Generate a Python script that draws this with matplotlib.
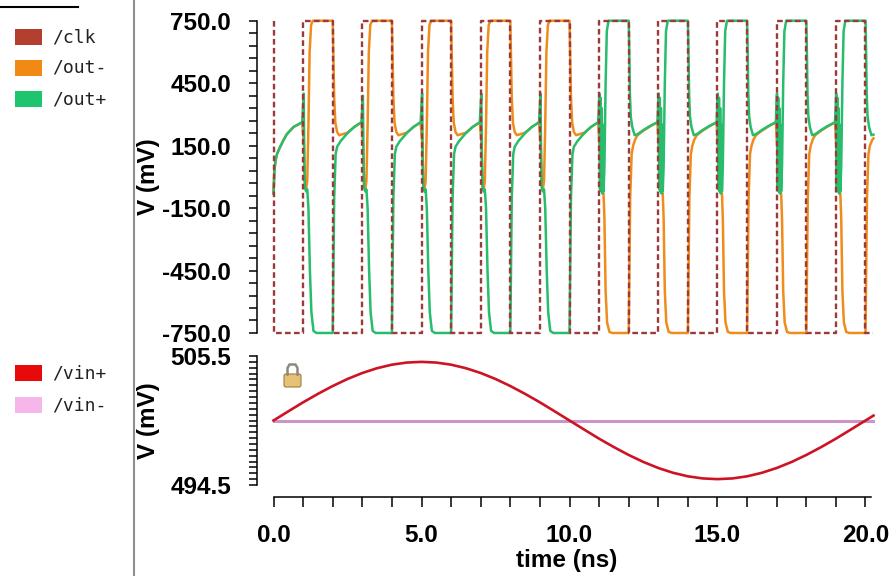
import matplotlib
matplotlib.use('Agg')
import numpy as np
import matplotlib.pyplot as plt
from matplotlib.patches import Rectangle, FancyBboxPatch
from matplotlib.ticker import FixedLocator, FormatStrFormatter

# ---------------- data ----------------
clk_t = [0, 0, 1, 1, 2, 2, 3, 3, 4, 4, 5, 5, 6, 6, 7, 7, 8, 8, 9, 9, 10, 10,
         11, 11, 12, 12, 13, 13, 14, 14, 15, 15, 16, 16, 17, 17, 18, 18, 19, 19,
         20, 20, 20.27]
clk_v = [750, -750, -750, 750, 750, -750, -750, 750, 750, -750, -750, 750,
         750, -750, -750, 750, 750, -750, -750, 750, 750, -750,
         -750, 750, 750, -750, -750, 750, 750, -750, -750, 750, 750, -750,
         -750, 750, 750, -750, -750, 750, 750, -750, -750]

outp_t = [
    0.00, 0.03, 0.07, 0.12, 0.23, 0.35, 0.45, 0.68, 0.97,
    1.02, 1.04, 1.06, 1.10, 1.14, 1.18, 1.23, 1.28, 1.35, 1.45,
    2.00, 2.02, 2.05, 2.10, 2.15, 2.27, 2.50, 2.73, 2.97,
    3.02, 3.04, 3.06, 3.10, 3.14, 3.18, 3.23, 3.28, 3.35, 3.45,
    4.00, 4.02, 4.05, 4.10, 4.15, 4.27, 4.50, 4.73, 4.97,
    5.02, 5.04, 5.06, 5.10, 5.14, 5.18, 5.23, 5.28, 5.35, 5.45,
    6.00, 6.02, 6.05, 6.10, 6.15, 6.27, 6.50, 6.73, 6.97,
    7.02, 7.04, 7.06, 7.10, 7.14, 7.18, 7.23, 7.28, 7.35, 7.45,
    8.00, 8.02, 8.05, 8.10, 8.15, 8.27, 8.50, 8.73, 8.97,
    9.02, 9.04, 9.06, 9.10, 9.14, 9.18, 9.23, 9.28, 9.35, 9.45,
    10.00, 10.02, 10.05, 10.10, 10.15, 10.27, 10.50, 10.73, 10.97,
    11.01, 11.03, 11.05, 11.07, 11.09, 11.11, 11.13, 11.15, 11.18, 11.22, 11.26, 11.32,
    12.00, 12.02, 12.04, 12.07, 12.12, 12.20, 12.30, 12.50, 12.73, 12.97,
    13.01, 13.03, 13.05, 13.07, 13.09, 13.11, 13.13, 13.15, 13.18, 13.22, 13.26, 13.32,
    14.00, 14.02, 14.04, 14.07, 14.12, 14.20, 14.30, 14.50, 14.73, 14.97,
    15.01, 15.03, 15.05, 15.07, 15.09, 15.11, 15.13, 15.15, 15.18, 15.22, 15.26, 15.32,
    16.00, 16.02, 16.04, 16.07, 16.12, 16.20, 16.30, 16.50, 16.73, 16.97,
    17.01, 17.03, 17.05, 17.07, 17.09, 17.11, 17.13, 17.15, 17.18, 17.22, 17.26, 17.32,
    18.00, 18.02, 18.04, 18.07, 18.12, 18.20, 18.30, 18.50, 18.73, 18.97,
    19.01, 19.03, 19.05, 19.07, 19.09, 19.11, 19.13, 19.15, 19.18, 19.22, 19.26, 19.32,
    20.00, 20.02, 20.04, 20.07, 20.12, 20.20, 20.27]
outp_v = [
    -80, 30, 80, 110, 146, 180, 205, 240, 262,
    400, 100, -50, -70, -60, -150, -450, -650, -740, -750,
    -750, -500, -100, 110, 145, 172, 210, 240, 262,
    390, 100, -50, -70, -60, -150, -450, -650, -740, -750,
    -750, -500, -100, 110, 145, 172, 210, 240, 262,
    400, 100, -50, -70, -60, -150, -450, -650, -740, -750,
    -750, -500, -100, 110, 145, 172, 210, 240, 262,
    400, 100, -50, -70, -60, -150, -450, -650, -740, -750,
    -750, -500, -100, 110, 145, 172, 210, 240, 262,
    400, 100, -50, -70, -60, -150, -450, -650, -740, -750,
    -750, -500, -100, 110, 145, 172, 210, 240, 262,
    400, -60, 380, -70, 330, -80, 250, -70, 50, 450, 700, 750,
    750, 600, 400, 290, 240, 200, 205, 225, 245, 262,
    400, -60, 380, -70, 330, -80, 250, -70, 50, 450, 700, 750,
    750, 600, 400, 290, 240, 200, 205, 225, 245, 262,
    400, -60, 380, -70, 330, -80, 250, -70, 50, 450, 700, 750,
    750, 600, 400, 290, 240, 200, 205, 225, 245, 262,
    400, -60, 380, -70, 330, -80, 250, -70, 50, 450, 700, 750,
    750, 600, 400, 290, 240, 200, 205, 225, 245, 262,
    400, -60, 380, -70, 330, -80, 250, -70, 50, 450, 700, 750,
    750, 600, 400, 290, 240, 200, 203]

outm_t = [
    0.00, 0.03, 0.07, 0.12, 0.23, 0.35, 0.45, 0.68, 0.97,
    1.03, 1.06, 1.10, 1.14, 1.18, 1.22, 1.27, 1.33,
    2.00, 2.02, 2.05, 2.09, 2.15, 2.22, 2.50, 2.73, 2.97,
    3.03, 3.06, 3.10, 3.14, 3.18, 3.22, 3.27, 3.33,
    4.00, 4.02, 4.05, 4.09, 4.15, 4.22, 4.50, 4.73, 4.97,
    5.03, 5.06, 5.10, 5.14, 5.18, 5.22, 5.27, 5.33,
    6.00, 6.02, 6.05, 6.09, 6.15, 6.22, 6.50, 6.73, 6.97,
    7.03, 7.06, 7.10, 7.14, 7.18, 7.22, 7.27, 7.33,
    8.00, 8.02, 8.05, 8.09, 8.15, 8.22, 8.50, 8.73, 8.97,
    9.03, 9.06, 9.10, 9.14, 9.18, 9.22, 9.27, 9.33,
    10.00, 10.02, 10.05, 10.09, 10.15, 10.22, 10.50, 10.73, 10.97,
    11.03, 11.06, 11.15, 11.18, 11.22, 11.27, 11.35, 11.45,
    12.00, 12.02, 12.05, 12.10, 12.15, 12.22, 12.30, 12.50, 12.73, 12.97,
    13.03, 13.06, 13.15, 13.18, 13.22, 13.27, 13.35, 13.45,
    14.00, 14.02, 14.05, 14.10, 14.15, 14.22, 14.30, 14.50, 14.73, 14.97,
    15.03, 15.06, 15.15, 15.18, 15.22, 15.27, 15.35, 15.45,
    16.00, 16.02, 16.05, 16.10, 16.15, 16.22, 16.30, 16.50, 16.73, 16.97,
    17.03, 17.06, 17.15, 17.18, 17.22, 17.27, 17.35, 17.45,
    18.00, 18.02, 18.05, 18.10, 18.15, 18.22, 18.30, 18.50, 18.73, 18.97,
    19.03, 19.06, 19.15, 19.18, 19.22, 19.27, 19.35, 19.45,
    20.00, 20.02, 20.05, 20.10, 20.15, 20.22, 20.27]
outm_v = [
    -80, 30, 80, 110, 146, 180, 205, 240, 262,
    150, -40, -60, -20, 250, 600, 730, 750,
    750, 600, 380, 260, 215, 200, 212, 240, 262,
    150, -40, -60, -20, 250, 600, 730, 750,
    750, 600, 380, 260, 215, 200, 212, 240, 262,
    150, -40, -60, -20, 250, 600, 730, 750,
    750, 600, 380, 260, 215, 200, 212, 240, 262,
    150, -40, -60, -20, 250, 600, 730, 750,
    750, 600, 380, 260, 215, 200, 212, 240, 262,
    150, -40, -60, -20, 250, 600, 730, 750,
    750, 600, 380, 260, 215, 200, 212, 240, 262,
    100, -60, -80, -200, -550, -700, -745, -750,
    -750, -500, -100, 110, 150, 180, 200, 222, 243, 262,
    100, -60, -80, -200, -550, -700, -745, -750,
    -750, -500, -100, 110, 150, 180, 200, 222, 243, 262,
    100, -60, -80, -200, -550, -700, -745, -750,
    -750, -500, -100, 110, 150, 180, 200, 222, 243, 262,
    100, -60, -80, -200, -550, -700, -745, -750,
    -750, -500, -100, 110, 150, 180, 200, 222, 243, 262,
    100, -60, -80, -200, -550, -700, -745, -750,
    -750, -500, -100, 110, 150, 175, 185]

vinp_t = [0.0, 0.5, 1.0, 1.5, 2.0, 2.5, 3.0, 3.5, 4.0, 4.5, 5.0, 5.5, 6.0, 6.5,
          7.0, 7.5, 8.0, 8.5, 9.0, 9.5, 10.0, 10.5, 11.0, 11.5, 12.0, 12.5,
          13.0, 13.5, 14.0, 14.5, 15.0, 15.5, 16.0, 16.5, 17.0, 17.5, 18.0,
          18.5, 19.0, 19.5, 20.0, 20.27]
vinp_v = [500.00, 500.78, 501.55, 502.27, 502.94, 503.54, 504.05, 504.46,
          504.76, 504.94, 505.00, 504.94, 504.76, 504.46, 504.05, 503.54,
          502.94, 502.27, 501.55, 500.78, 500.00, 499.22, 498.45, 497.73,
          497.06, 496.46, 495.95, 495.54, 495.24, 495.06, 495.00, 495.06,
          495.24, 495.54, 495.95, 496.46, 497.06, 497.73, 498.45, 499.22,
          500.00, 500.42]
vinm_t = [0.0, 20.27]
vinm_v = [500.0, 500.0]

top_ticks = [750, 450, 150, -150, -450, -750]
bot_yticks = [494.5, 505.5]
bot_xticks = [0, 5, 10, 15, 20]

top_names = ['/clk', '/out-', '/out+']
top_cols = ['#b3402e', '#f08a14', '#1fc46e']
bot_names = ['/vin+', '/vin-']
bot_cols = ['#e80a0a', '#f6b6ea']

C_CLK = '#9c3a3a'
C_OM = '#ef8c1c'
C_OP = '#27bd6c'
C_VP = '#cc1424'
C_VM = '#cc94c8'

# ---------------- figure ----------------
W, H = 893, 576
fig = plt.figure(figsize=(W / 100, H / 100), dpi=100)
fig.patch.set_facecolor('white')

def px_axes(left, top, right, bottom):
    return fig.add_axes([left / W, 1 - bottom / H, (right - left) / W, (bottom - top) / H])

FONT = dict(family='Liberation Sans', weight='bold', size=17.5)
PX = 0.72  # points per pixel

XL, XR = 270.54, 875.86
ax1 = px_axes(XL, 17.6, XR, 336.1)
ax2 = px_axes(XL, 356, XR, 485)
for ax in (ax1, ax2):
    ax.set_xlim(-0.1, 20.35)
    ax.patch.set_alpha(0)
    for s in ('top', 'right'):
        ax.spines[s].set_visible(False)
    ax.spines['left'].set_position(('outward', 13.5 * PX))
    ax.spines['left'].set_linewidth(1.1)
    ax.spines['bottom'].set_linewidth(1.1)

ax1.set_ylim(-765, 765)
ax1.spines['bottom'].set_visible(False)
ax1.spines['left'].set_bounds(-750, 750)
ax1.set_xticks([])
ax1.yaxis.set_major_locator(FixedLocator(top_ticks))
ax1.yaxis.set_minor_locator(FixedLocator(np.arange(-750, 751, 60)))
ax1.yaxis.set_major_formatter(FormatStrFormatter('%.1f'))

ax2.set_ylim(494.5, 505.5)
ax2.spines['left'].set_bounds(494.5, 505.5)
ax2.spines['bottom'].set_position(('outward', 12 * PX))
ax2.spines['bottom'].set_bounds(0, 20.2)
ax2.yaxis.set_major_locator(FixedLocator(bot_yticks))
ax2.yaxis.set_minor_locator(FixedLocator(np.arange(494.5, 505.51, 0.5)))
ax2.yaxis.set_major_formatter(FormatStrFormatter('%.1f'))
ax2.xaxis.set_major_locator(FixedLocator(bot_xticks))
ax2.xaxis.set_minor_locator(FixedLocator(np.arange(0, 20.1, 1)))
ax2.xaxis.set_major_formatter(FormatStrFormatter('%.1f'))

for ax in (ax1, ax2):
    ax.tick_params(axis='y', which='both', direction='out', length=8 * PX, width=1.1,
                   pad=13)
    ax.tick_params(axis='x', which='both', direction='out', length=10 * PX, width=1.1,
                   pad=12)
    for lab in ax.get_yticklabels() + ax.get_xticklabels():
        lab.set_fontfamily(FONT['family'])
        lab.set_fontweight('bold')
        lab.set_fontsize(FONT['size'])

# traces
ax1.plot(outm_t, outm_v, color=C_OM, lw=1.8, zorder=2, clip_on=False)
ax1.plot(outp_t, outp_v, color=C_OP, lw=1.8, zorder=3, clip_on=False)
ax1.plot(clk_t, clk_v, color=C_CLK, lw=1.7, dashes=(2.4, 1.4), zorder=4, clip_on=False)

ax2.plot(vinm_t, vinm_v, color=C_VM, lw=2.2, zorder=2)
ax2.plot(vinp_t, vinp_v, color=C_VP, lw=1.9, zorder=3)

# ---------------- overlay (legend, labels, decorations) ----------------
ov = fig.add_axes([0, 0, 1, 1])
ov.set_xlim(0, W)
ov.set_ylim(H, 0)
ov.axis('off')
ov.set_zorder(5)

ov.plot([134, 134], [0, H], color='#8e8e8e', lw=1.5)
ov.plot([0, 78], [7, 7], color='black', lw=1.5)

for name, col, cy in zip(top_names, top_cols, [37, 68, 99]):
    ov.add_patch(Rectangle((15, cy - 8), 27, 16, color=col, lw=0))
    ov.text(52, cy, name, family='DejaVu Sans Mono', size=13, color='#222222',
            ha='left', va='center')
for name, col, cy in zip(bot_names, bot_cols, [373, 405]):
    ov.add_patch(Rectangle((15, cy - 8), 27, 16, color=col, lw=0))
    ov.text(52, cy, name, family='DejaVu Sans Mono', size=13, color='#222222',
            ha='left', va='center')

ov.text(148, 177, 'V (mV)', rotation=90, ha='center', va='center', **FONT)
ov.text(148, 421, 'V (mV)', rotation=90, ha='center', va='center', **FONT)
ov.text(567, 561, 'time (ns)', ha='center', va='center', **FONT)

# lock icon
ov.plot([287.5, 287.5, 289.5, 295.5, 297.5, 297.5], [375, 368, 364.5, 364.5, 368, 375],
        color='#8a8a82', lw=1.8, solid_capstyle='round')
ov.add_patch(FancyBboxPatch((284, 374), 17, 13, boxstyle='round,pad=0,rounding_size=2',
                            fc='#e5c277', ec='#a07c3c', lw=0.8))

fig.savefig('out.png', dpi=100, facecolor='white')
